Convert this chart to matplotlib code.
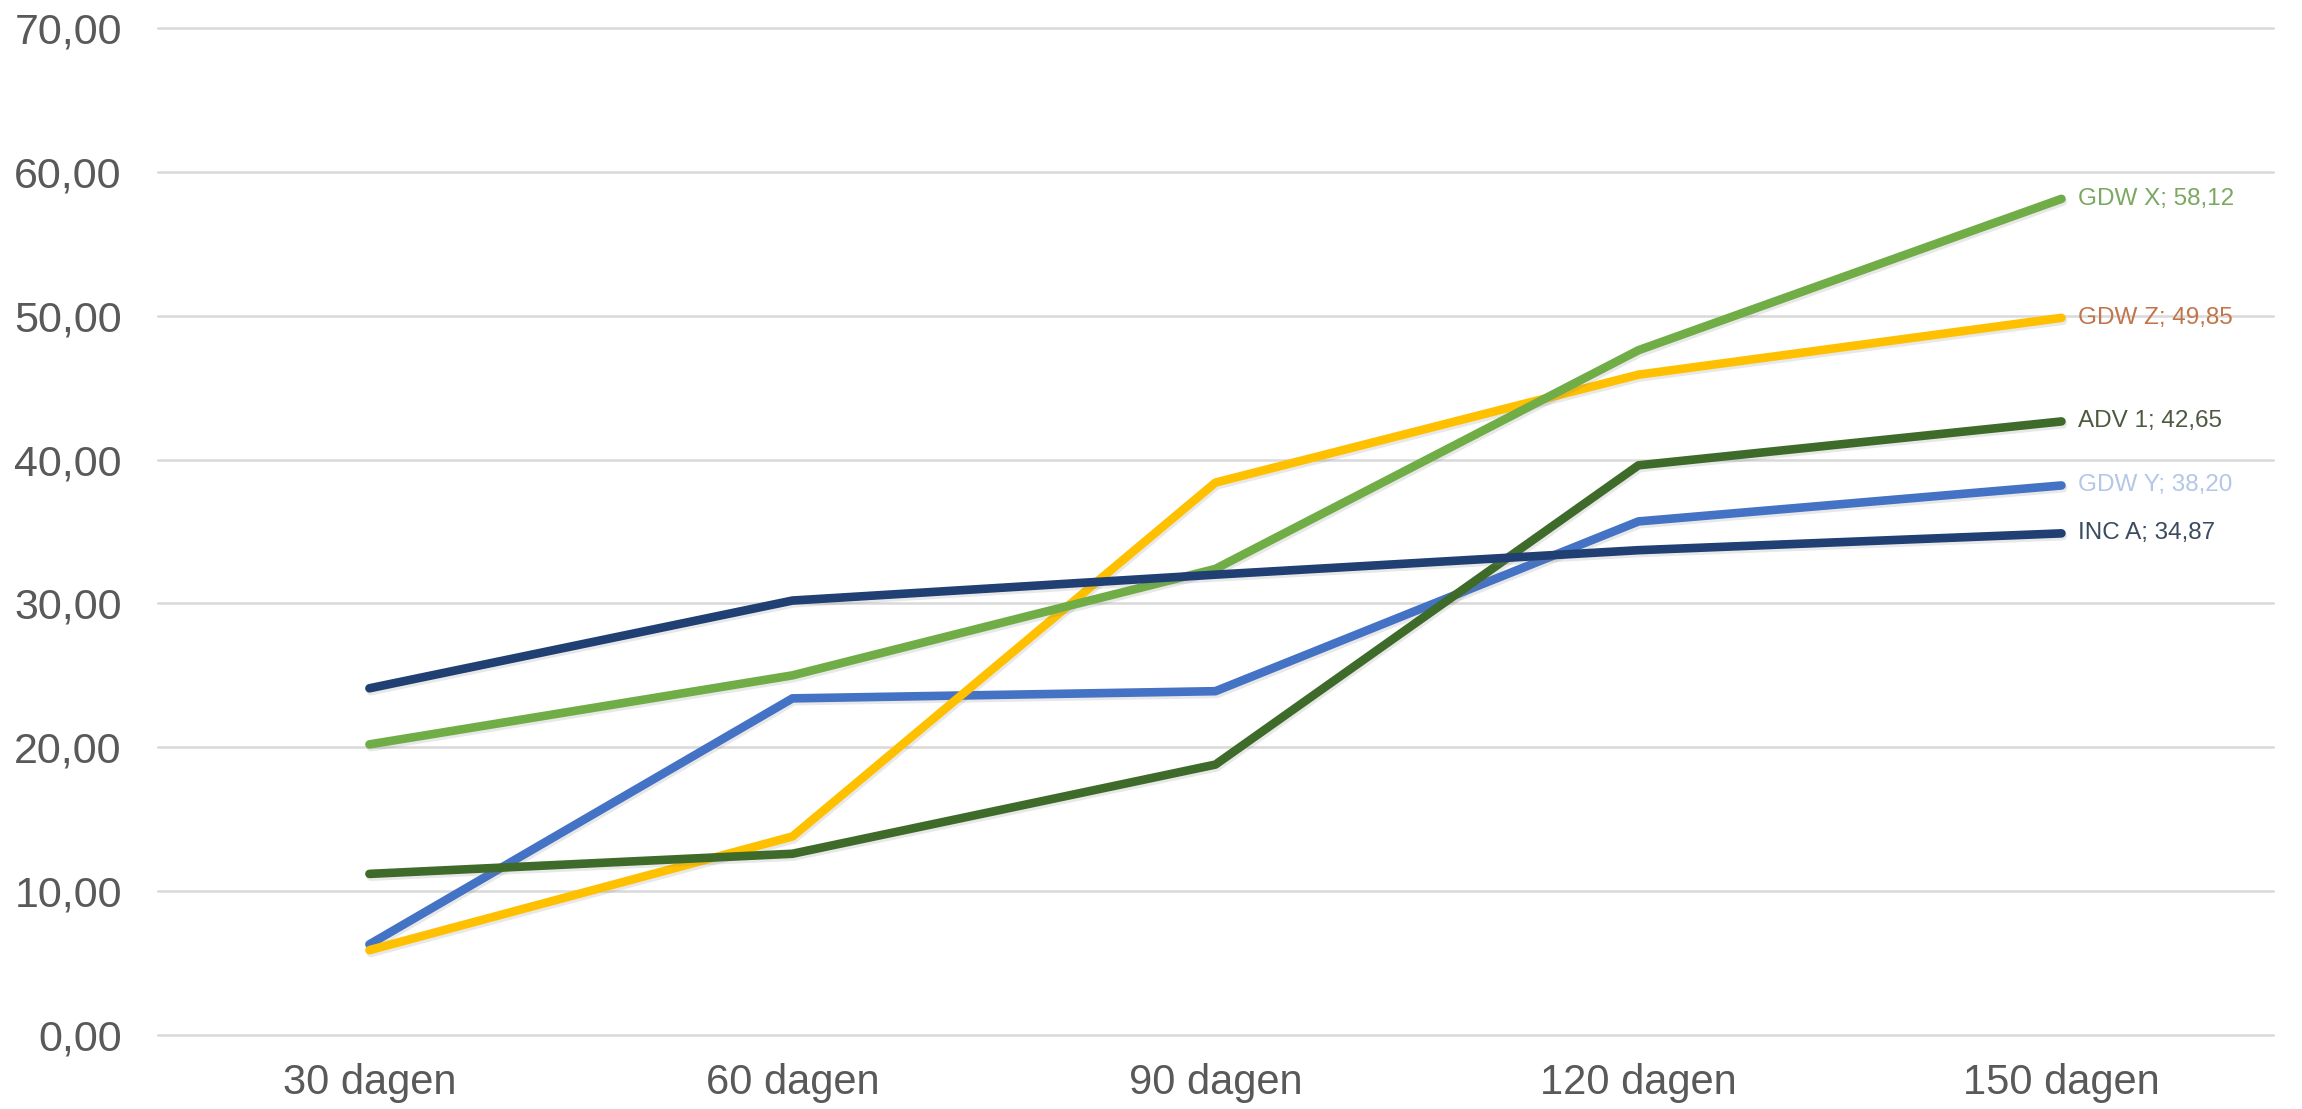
import matplotlib
matplotlib.use('Agg')
import matplotlib.pyplot as plt
import matplotlib.patheffects as pe

categories = ['30 dagen', '60 dagen', '90 dagen', '120 dagen', '150 dagen']

gdw_y = [6.3, 23.4, 23.9, 35.7, 38.20]
gdw_z = [5.9, 13.8, 38.4, 45.9, 49.85]
adv_1 = [11.2, 12.6, 18.8, 39.6, 42.65]
gdw_x = [20.2, 25.0, 32.4, 47.6, 58.12]
inc_a = [24.1, 30.2, 32.0, 33.7, 34.87]

# name, values, line colour, label colour
series = [
    ('GDW Y', gdw_y, '#4472c4', '#b4c7e7'),
    ('GDW Z', gdw_z, '#ffc000', '#c0754a'),
    ('ADV 1', adv_1, '#3f6b2a', '#4d5a40'),
    ('GDW X', gdw_x, '#70ad47', '#7aa860'),
    ('INC A', inc_a, '#203f73', '#3b4b60'),
]

plt.rcParams['font.family'] = ['Liberation Sans', 'DejaVu Sans']

fig = plt.figure(figsize=(23.02, 11.09), dpi=100)
ax = fig.add_axes([0.0686, 0.0667, 0.9188, 0.9081])

shadow = [pe.SimpleLineShadow(offset=(1, -2), shadow_color='gray', alpha=0.18),
          pe.Normal()]

x = list(range(len(categories)))
for name, vals, col, lcol in series:
    ax.plot(x, vals, color=col, lw=6.2, solid_joinstyle='round',
            solid_capstyle='round', zorder=3, path_effects=shadow)
    ax.annotate('{}; {:.2f}'.format(name, vals[-1]).replace('.', ','),
                xy=(x[-1], vals[-1]), xytext=(12, 0), textcoords='offset points',
                va='center', ha='left', fontsize=17.5, color=lcol, zorder=4)

ax.set_xlim(-0.5, 4.5)
ax.set_ylim(0, 70)
ax.set_yticks(range(0, 71, 10))
ax.set_yticklabels(['{:.2f}'.format(v).replace('.', ',') for v in range(0, 71, 10)])
ax.set_xticks(x)
ax.set_xticklabels(categories)

ax.grid(axis='y', color='#d9d9d9', lw=1.8)
for gl in ax.get_ygridlines():
    gl.set_clip_on(False)
ax.set_axisbelow(True)
for s in ax.spines.values():
    s.set_visible(False)
ax.tick_params(axis='y', length=0, pad=26, labelsize=31, labelcolor='#595959')
ax.tick_params(axis='x', length=0, pad=20, labelsize=30, labelcolor='#595959')

fig.savefig('out.png', dpi=100)
